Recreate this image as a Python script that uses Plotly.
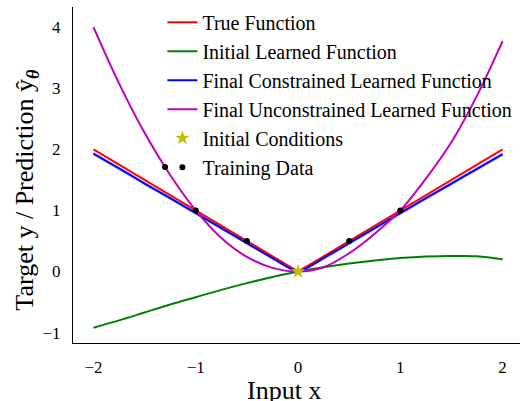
import plotly.graph_objects as go

# ---- data ----
x_grid = [-2.0, -1.75, -1.5, -1.25, -1.0, -0.75, -0.5, -0.25, 0.0,
          0.25, 0.5, 0.75, 1.0, 1.25, 1.5, 1.75, 2.0]
true_y = [2.0, 1.75, 1.5, 1.25, 1.0, 0.75, 0.5, 0.25, 0.0,
          0.25, 0.5, 0.75, 1.0, 1.25, 1.5, 1.75, 2.0]
initial_y = [-0.92, -0.80, -0.67, -0.54, -0.42, -0.30, -0.19, -0.09, 0.0,
             0.07, 0.13, 0.18, 0.22, 0.245, 0.255, 0.25, 0.20]
constrained_y = [1.93, 1.69, 1.44, 1.20, 0.955, 0.71, 0.465, 0.22, 0.0,
                 0.22, 0.465, 0.71, 0.955, 1.20, 1.44, 1.68, 1.92]
constrained_std = [0.03, 0.03, 0.03, 0.03, 0.03, 0.03, 0.03, 0.03, 0.02,
                   0.03, 0.03, 0.03, 0.03, 0.03, 0.03, 0.03, 0.03]
unconstrained_y = [4.0, 3.08, 2.27, 1.58, 1.0, 0.55, 0.24, 0.06, 0.0,
                   0.07, 0.30, 0.62, 1.0, 1.52, 2.12, 2.88, 3.77]
init_cond_x = [0.0]
init_cond_y = [0.0]
train_x = [-1.3, -1.0, -0.5, 0.5, 1.0]
train_y = [1.71, 1.0, 0.5, 0.5, 1.0]

x_ticks = [-2, -1, 0, 1, 2]
y_ticks = [-1, 0, 1, 2, 3, 4]

FONT = "Times New Roman, Liberation Serif, serif"

fig = go.Figure()

upper = [m + s for m, s in zip(constrained_y, constrained_std)]
lower = [m - s for m, s in zip(constrained_y, constrained_std)]
fig.add_trace(go.Scatter(x=x_grid, y=upper, mode="lines", line=dict(width=0, color="rgba(0,0,255,0)"),
                         showlegend=False, hoverinfo="skip"))
fig.add_trace(go.Scatter(x=x_grid, y=lower, mode="lines", line=dict(width=0, color="rgba(0,0,255,0)"),
                         fill="tonexty", fillcolor="rgba(0,0,255,0.25)", showlegend=False, hoverinfo="skip"))

fig.add_trace(go.Scatter(x=x_grid, y=true_y, mode="lines", name="True Function",
                         line=dict(color="#ff0000", width=2), legendgroup="a"))
fig.add_trace(go.Scatter(x=x_grid, y=initial_y, mode="lines", name="Initial Learned Function",
                         line=dict(color="#008000", width=2, shape="spline"), legendgroup="b"))
fig.add_trace(go.Scatter(x=x_grid, y=constrained_y, mode="lines", name="Final Constrained Learned Function",
                         line=dict(color="#0000ff", width=2, shape="spline", smoothing=0.6), legendgroup="c"))
fig.add_trace(go.Scatter(x=x_grid, y=unconstrained_y, mode="lines", name="Final Unconstrained Learned Function",
                         line=dict(color="#bf00bf", width=2, shape="spline"), legendgroup="d"))
fig.add_trace(go.Scatter(x=init_cond_x, y=init_cond_y, mode="markers", name="Initial Conditions",
                         marker=dict(symbol="star", size=11, color="#bfbf00"), legendgroup="e"))
fig.add_trace(go.Scatter(x=train_x, y=train_y, mode="markers", name="Training Data",
                         marker=dict(symbol="circle", size=6, color="black"), legendgroup="f"))

fig.add_annotation(text="Target y / Prediction \u0177<sub><b><i>\u03b8</i></b></sub>",
                   xref="paper", yref="paper", x=-0.104, y=0.455, xanchor="center", yanchor="middle",
                   textangle=-90, showarrow=False,
                   font=dict(family=FONT, size=26, color="black"))
fig.add_annotation(text="Input x",
                   xref="paper", yref="paper", x=0.472, y=-0.14, xanchor="center", yanchor="middle",
                   showarrow=False,
                   font=dict(family=FONT, size=26, color="black"))

fig.update_layout(
    width=520, height=401,
    margin=dict(l=73, r=0, t=7, b=58),
    paper_bgcolor="white", plot_bgcolor="white",
    font=dict(family=FONT, size=17, color="black"),
    showlegend=True,
    legend=dict(x=0.2, y=1.013, xanchor="left", yanchor="top", bgcolor="rgba(0,0,0,0)",
                font=dict(family=FONT, size=20, color="black"), tracegroupgap=0, borderwidth=0),
    xaxis=dict(range=[-2.2, 2.17], tickvals=x_ticks, ticktext=["\u22122", "\u22121", "0", "1", "2"],
               showgrid=False, zeroline=False, showline=True, linecolor="black", linewidth=1.2,
               ticks="", tickfont=dict(family=FONT, size=17, color="black"), ticklabelstandoff=8,
               automargin=False),
    yaxis=dict(range=[-1.17, 4.33], tickvals=y_ticks, ticktext=["\u22121", "0", "1", "2", "3", "4"],
               showgrid=False, zeroline=False, showline=True, linecolor="black", linewidth=1.2,
               ticks="", tickfont=dict(family=FONT, size=17, color="black"), ticklabelstandoff=8,
               automargin=False),
)

fig.write_html("out.html", config={"displayModeBar": False},
               post_script="document.body.style.margin='0px';")
